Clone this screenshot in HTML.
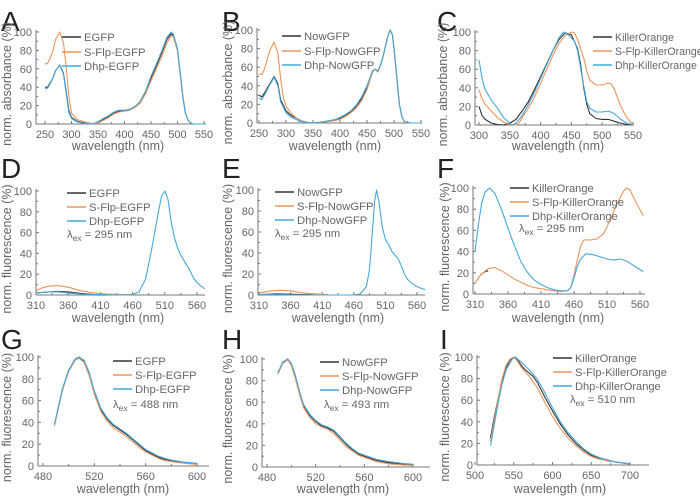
<!DOCTYPE html>
<html><head><meta charset="utf-8"><style>
html,body{margin:0;padding:0;background:#fff}
svg{display:block;font-family:"Liberation Sans",sans-serif}
</style></head><body>
<svg id="fig" width="700" height="503" viewBox="0 0 700 503"></svg>
<script>
// ---- data (wavelength nm, value %) ----
const A_EGFP=[[250,40],[255,40],[260,45],[265,50],[270,58],[278,64],[285,55],[290,35],[295,15],[300,7],[310,3],[320,1.5],[330,0.5],[340,0],[350,2],[360,5],[370,8],[380,12],[390,14],[400,14],[410,16],[420,19],[430,24],[440,35],[450,50],[460,63],[470,77],[480,92],[488,98],[492,96],[500,80],[505,55],[510,30],[515,12],[520,4],[525,1],[530,0],[550,0]];
const A_SFLP=[[250,65],[255,66],[260,72],[265,80],[270,92],[278,100],[285,88],[290,62],[295,30],[300,12],[310,5],[320,3],[330,1.5],[340,0.5],[350,1],[360,4],[370,7],[380,11],[390,13],[400,14],[410,15],[420,18],[430,23],[440,33],[450,47],[460,60],[470,73],[480,88],[488,96],[492,95],[500,80],[505,55],[510,30],[515,12],[520,4],[525,1],[530,0],[550,0]];
const A_DHP=[[250,38],[255,39],[260,44],[265,50],[270,58],[278,64],[285,54],[290,33],[295,13],[300,6],[310,2.5],[320,1],[330,0.3],[340,0],[350,2.5],[360,6],[370,9],[380,13],[390,15],[400,15],[410,16],[420,19],[430,25],[440,36],[450,52],[460,65],[470,79],[480,94],[488,100],[492,98],[500,82],[505,56],[510,30],[515,12],[520,4],[525,1],[530,0],[550,0]];
const B_NOW=[[250,30],[255,28],[260,32],[270,42],[278,50],[285,42],[290,25],[300,13],[310,8],[320,5],[330,2],[340,0.5],[350,0],[370,1],[390,3],[400,5],[410,8],[420,12],[430,18],[440,26],[450,38],[460,55],[465,58],[470,55],[475,62],[480,72],[488,92],[493,100],[497,95],[500,80],[505,50],[510,20],[515,6],[520,1],[530,0],[550,0]];
const B_SFLP=[[250,53],[255,52],[260,58],[265,68],[270,78],[278,87],[285,75],[290,48],[295,28],[300,18],[310,10],[320,5],[330,2],[340,0.5],[350,0],[370,1],[390,2.5],[400,4],[410,7],[420,11],[430,16],[440,24],[450,36],[460,54],[465,58],[470,55],[475,62],[480,72],[488,92],[493,100],[497,95],[500,80],[505,50],[510,20],[515,6],[520,1],[530,0],[550,0]];
const B_DHP=[[250,27],[255,25],[260,30],[270,41],[278,49],[285,40],[290,23],[300,11],[310,6],[320,3.5],[330,1.5],[340,0.3],[350,0],[370,1.5],[390,3.5],[400,6],[410,9],[420,13],[430,19],[440,28],[450,40],[460,56],[465,58],[470,56],[475,62],[480,72],[488,92],[493,100],[497,95],[500,80],[505,50],[510,20],[515,6],[520,1],[530,0],[550,0]];
const C_KO=[[300,20],[305,10],[310,6],[320,2],[330,0.5],[340,0],[350,2],[360,6],[370,15],[380,25],[390,38],[400,52],[410,66],[420,80],[430,92],[440,99],[450,97],[460,82],[465,65],[470,40],[475,22],[480,12],[490,7],[500,6],[510,6],[520,4],[530,2],[540,0.5],[550,0]];
const C_SFLP=[[300,38],[305,28],[310,22],[320,15],[330,8],[340,3],[350,0.5],[360,0],[365,2],[370,8],[380,18],[390,30],[400,45],[410,60],[420,75],[430,88],[440,96],[450,100],[455,99],[460,92],[470,72],[475,58],[480,48],[490,43],[500,43],[510,45],[515,44],[520,38],[530,20],[540,8],[550,0]];
const C_DHP=[[300,70],[305,50],[310,38],[320,27],[330,18],[340,8],[350,2],[355,0],[360,2],[370,10],[380,22],[390,35],[400,50],[410,65],[420,80],[430,94],[437,100],[445,97],[455,90],[460,80],[470,42],[475,25],[480,18],[490,14],[500,14],[510,15],[520,12],[530,6],[540,2],[550,0]];
const D_EGFP=[[310,2],[330,3],[345,3.5],[360,3],[380,1.5],[400,0.5],[420,0]];
const D_SFLP=[[310,4],[320,7],[330,8.5],[345,9],[360,7.5],[380,4],[400,2],[420,1],[440,0.5],[460,0.5]];
const D_DHP=[[310,2],[330,3],[345,3],[360,2],[380,1],[400,0.5],[450,0],[460,0.5],[470,3],[480,15],[490,45],[500,80],[505,95],[510,100],[515,92],[520,70],[525,55],[530,45],[535,38],[540,33],[545,28],[550,22],[555,16],[560,12],[565,9],[572,6]];
const E_NOW=[[310,0.5],[340,1],[380,0.5],[420,0]];
const E_SFLP=[[310,2],[330,4],[345,4.5],[360,4],[380,2],[400,1],[420,0.5]];
const E_DHP=[[310,0.5],[400,0],[460,0],[470,1],[480,8],[485,25],[490,65],[493,90],[496,100],[500,88],[505,65],[510,53],[515,48],[520,42],[525,38],[530,35],[535,28],[540,20],[545,15],[550,12],[560,8],[573,5]];
const F_KO=[[318,18],[325,21],[330,22]];
const F_SFLP=[[310,10],[315,15],[320,19],[330,24],[340,25],[350,22],[360,18],[370,14],[380,11],[390,8],[400,6],[410,5],[420,4],[430,3],[440,2.5],[450,3],[455,6],[460,18],[465,32],[470,45],[475,51],[485,51],[495,52],[505,57],[515,70],[525,85],[535,97],[540,100],[545,98],[555,85],[565,74]];
const F_DHP=[[310,40],[315,65],[320,85],[325,96],[332,100],[340,95],[350,80],[360,62],[370,45],[380,30],[390,20],[400,13],[410,9],[420,6],[430,4],[440,3],[450,3],[455,6],[460,15],[465,26],[470,33],[478,38],[490,37],[500,35],[510,33],[520,32],[530,33],[540,31],[550,27],[560,23],[565,21]];
const G_EGFP=[[489,38],[495,70],[500,88],[505,98],[508,100],[512,96],[516,85],[520,68],[525,52],[530,43],[535,37],[540,33],[545,29],[550,24],[555,19],[560,14],[565,11],[570,8],[575,6],[580,5],[590,3],[600,2]];
const G_SFLP=[[489,37],[495,69],[500,87],[505,97],[508,99],[512,95],[516,83],[520,66],[525,50],[530,41],[535,35],[540,31],[545,27],[550,22],[555,17],[560,13],[565,10],[570,7],[575,5],[580,4],[590,2.5],[600,1.5]];
const G_DHP=[[489,38],[495,70],[500,88],[505,98],[508,100],[512,97],[516,86],[520,69],[525,53],[530,44],[535,38],[540,34],[545,30],[550,25],[555,20],[560,15],[565,12],[570,9],[575,7],[580,5.5],[590,3.5],[600,2.5]];
const H_NOW=[[489,87],[493,97],[497,100],[500,95],[503,85],[507,68],[510,57],[515,48],[520,42],[525,38],[530,36],[535,33],[540,27],[545,21],[550,16],[555,12],[560,10],[570,6],[580,4],[590,3],[600,2]];
const H_SFLP=[[489,86],[493,96],[497,99],[500,94],[503,83],[507,66],[510,55],[515,46],[520,40],[525,37],[530,35],[535,31],[540,25],[545,19],[550,15],[555,11],[560,9],[570,5],[580,3],[590,2],[600,1.5]];
const H_DHP=[[489,87],[493,97],[497,100],[500,96],[503,86],[507,69],[510,58],[515,49],[520,43],[525,39],[530,37],[535,34],[540,28],[545,22],[550,17],[555,13],[560,11],[570,7],[580,5],[590,3.5],[600,2.5]];
const I_KO=[[520,25],[525,45],[530,62],[535,78],[540,90],[545,97],[550,100],[555,97],[560,92],[565,88],[570,85],[575,82],[580,77],[590,63],[600,50],[610,38],[620,28],[630,20],[640,14],[650,9],[660,6],[670,4],[680,3],[700,1]];
const I_SFLP=[[520,22],[525,42],[530,62],[535,80],[540,92],[545,98],[550,100],[555,96],[560,90],[570,82],[580,72],[590,58],[600,45],[610,34],[620,25],[630,18],[640,12],[650,8],[660,5.5],[680,3],[700,1]];
const I_DHP=[[520,18],[525,38],[530,58],[535,75],[540,88],[548,98],[552,100],[560,95],[570,88],[580,80],[590,67],[600,53],[610,40],[620,30],[630,22],[640,15],[650,10],[660,7],[680,3],[700,1]];
const xTicksA=[250,300,350,400,450,500,550];
const xTicksC=[300,350,400,450,500,550];
const xTicksD=[310,360,410,460,510,560];
const xTicksG=[480,520,560,600];
const xTicksI=[500,550,600,650,700];
const yTicks=[0,20,40,60,80,100];
const namesA=["EGFP","S-Flp-EGFP","Dhp-EGFP"];
const namesB=["NowGFP","S-Flp-NowGFP","Dhp-NowGFP"];
const namesC=["KillerOrange","S-Flp-KillerOrange","Dhp-KillerOrange"];

const COLORS=["#333333","#e8955c","#45a8db"];
const TXT="#666";
const NS="http://www.w3.org/2000/svg";
const svg=document.getElementById('fig');
function mk(tag,attrs,parent){const e=document.createElementNS(NS,tag);for(const k in attrs)e.setAttribute(k,attrs[k]);(parent||svg).appendChild(e);return e;}

const panels=[
 {id:"A",series:[A_EGFP,A_SFLP,A_DHP],names:namesA,xt:xTicksA,x0:250,x1:550,px0:45,px1:204,ax0:36,ax1:206,py0:124,py100:32,letterX:1,letterY:31,ylab:"norm. absorbance (%)",ylx:11,xlc:118,xly:150,lx:62,ly:[37,52,66],lfs:11.3},
 {id:"B",series:[B_NOW,B_SFLP,B_DHP],names:namesB,xt:xTicksA,x0:250,x1:550,px0:259,px1:421,ax0:257,ax1:422,py0:123,py100:30,letterX:222,letterY:31,ylab:"norm. absorbance (%)",ylx:232,xlc:335,xly:150,lx:282,ly:[36,51,65],lfs:11.3},
 {id:"C",series:[C_KO,C_SFLP,C_DHP],names:namesC,xt:xTicksC,x0:300,x1:550,px0:479,px1:633,ax0:475,ax1:634,py0:125,py100:32,letterX:437,letterY:31,ylab:"norm. absorbance (%)",ylx:447,xlc:558,xly:150,lx:593,ly:[37,51,65],lfs:10.6},
 {id:"D",series:[D_EGFP,D_SFLP,D_DHP],names:namesA,xt:xTicksD,x0:310,x1:560,px0:36,px1:197,ax0:36,ax1:205,py0:295,py100:191,letterX:1,letterY:178,ylab:"norm. fluorescence (%)",ylx:11,xlc:118,xly:322,lx:67,ly:[193,207,221],lam:"295",lamX:67,lamY:238,lfs:11.3},
 {id:"E",series:[E_NOW,E_SFLP,E_DHP],names:namesB,xt:xTicksD,x0:310,x1:560,px0:259,px1:417,ax0:258,ax1:425,py0:295,py100:190,letterX:222,letterY:178,ylab:"norm. fluorescence (%)",ylx:232,xlc:338,xly:322,lx:275,ly:[192,206,220],lam:"295",lamX:275,lamY:237,lfs:11.3},
 {id:"F",series:[F_KO,F_SFLP,F_DHP],names:namesC,xt:xTicksD,x0:310,x1:560,px0:475,px1:640,ax0:473,ax1:645,py0:294,py100:188,letterX:437,letterY:178,ylab:"norm. fluorescence (%)",ylx:449,xlc:558,xly:322,lx:510,ly:[188,202,216],lam:"295",lamX:519,lamY:232,lfs:11.1},
 {id:"G",series:[G_EGFP,G_SFLP,G_DHP],names:namesA,xt:xTicksG,x0:480,x1:600,px0:43,px1:197,ax0:38,ax1:209,py0:466,py100:357,letterX:1,letterY:349,ylab:"norm. fluorescence (%)",ylx:11,xlc:123,xly:493,lx:113,ly:[361,375,389],lam:"488",lamX:113,lamY:408,lfs:11.3},
 {id:"H",series:[H_NOW,H_SFLP,H_DHP],names:namesB,xt:xTicksG,x0:480,x1:600,px0:267,px1:413,ax0:262,ax1:430,py0:467,py100:359,letterX:222,letterY:349,ylab:"norm. fluorescence (%)",ylx:232,xlc:343,xly:493,lx:320,ly:[362,376,390],lam:"493",lamX:324,lamY:408,lfs:11.3},
 {id:"I",series:[I_KO,I_SFLP,I_DHP],names:namesC,xt:xTicksI,x0:500,x1:700,px0:475,px1:630,ax0:477,ax1:649,py0:465,py100:357,letterX:440,letterY:349,ylab:"norm. fluorescence (%)",ylx:449,xlc:560,xly:493,lx:553,ly:[358,372,386],lam:"510",lamX:570,lamY:403,lfs:11.1}
];

panels.forEach(p=>{
 const g=mk('g',{});
 
 
 const sx=v=>p.px0+(v-p.x0)*(p.px1-p.px0)/(p.x1-p.x0);
 const sy=v=>p.py0+(p.py100-p.py0)*v/100;
 const L=mk('text',{x:p.letterX,y:p.letterY,'font-size':28,fill:'#222'},g);L.textContent=p.id;
 
 
 const ax=mk('g',{stroke:'#777','stroke-width':1},g);
 
 
 mk('line',{x1:p.ax0,y1:p.py0,x2:p.ax1,y2:p.py0},ax);
 mk('line',{x1:p.ax0,y1:p.py0,x2:p.ax0,y2:p.py100-2},ax);
 for(let v=0;v<=100;v+=10){mk('line',{x1:p.ax0,y1:sy(v),x2:p.ax0+(v%20?2:3),y2:sy(v)},ax);}
 yTicks.forEach(v=>{const t=mk('text',{x:p.ax0-4,y:sy(v)+4,'font-size':11,fill:TXT,'text-anchor':'end'},g);t.textContent=v;
  
  });
 const step=p.xt[1]-p.xt[0];
 for(let v=p.xt[0];v<=p.xt[p.xt.length-1];v+=step/2){const x=sx(v);mk('line',{x1:x,y1:p.py0,x2:x,y2:p.py0-((v-p.xt[0])%step?2:3)},ax);}
 p.xt.forEach(v=>{const t=mk('text',{x:sx(v),y:p.py0+14,'font-size':11,fill:TXT,'text-anchor':'middle'},g);t.textContent=v;
  
  });
 const xl=mk('text',{x:p.xlc,y:p.xly,'font-size':12.5,fill:TXT,'text-anchor':'middle'},g);xl.textContent='wavelength (nm)';
 
 
 const yc=(p.py0+p.py100)/2+6;
 const yl=mk('text',{x:p.ylx,y:yc,'font-size':12.5,fill:TXT,'text-anchor':'middle',transform:`rotate(-90 ${p.ylx} ${yc})`},g);yl.textContent=p.ylab;
 
 
 [0,1,2].forEach(i=>{const d=p.series[i].map((pt,j)=>(j?'L':'M')+sx(pt[0]).toFixed(1)+','+sy(pt[1]).toFixed(1)).join('');
  const path=mk('path',{d:d,fill:'none',stroke:COLORS[i],'stroke-width':1.1,'stroke-linejoin':'round'},g);
  
  });
 p.names.forEach((n,i)=>{
  const lg=mk('g',{},g);
  
  
  mk('line',{x1:p.lx,y1:p.ly[i],x2:p.lx+19,y2:p.ly[i],stroke:COLORS[i],'stroke-width':1.4},lg);
  const t=mk('text',{x:p.lx+22,y:p.ly[i]+4,'font-size':p.lfs,fill:TXT},lg);t.textContent=n;});
 if(p.lam){const t=mk('text',{x:p.lamX,y:p.lamY,'font-size':11.3,fill:TXT},g);
  t.innerHTML='λ<tspan font-size="8.5" dy="3">ex</tspan><tspan dy="-3"> = '+p.lam+' nm</tspan>';
  
  }
});
</script>
</body></html>
